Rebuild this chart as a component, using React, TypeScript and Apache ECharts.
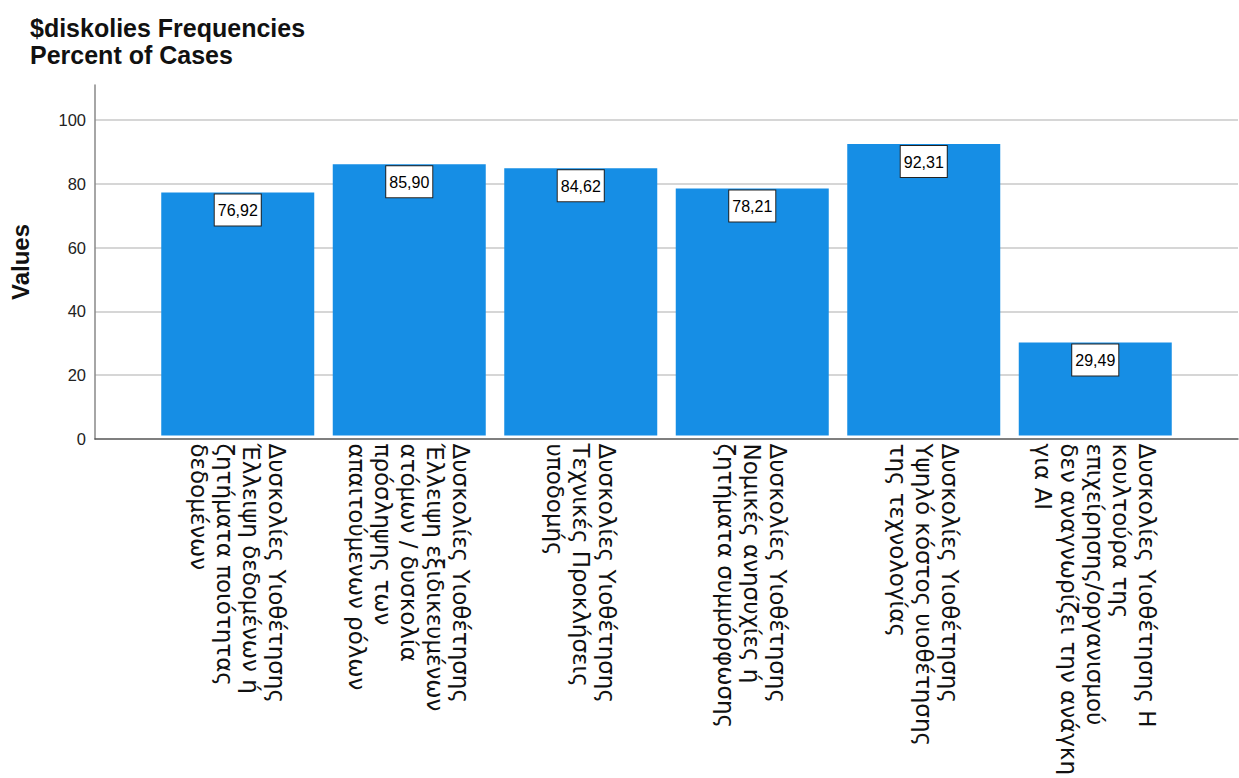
import React, { useEffect, useRef } from "react";
import * as echarts from "echarts";

const categories: string[] = [
  "Δυσκολίες Υιοθέτησης\nΈλλειψη δεδομένων ή\nζητήματα ποιότητας\nδεδομένων",
  "Δυσκολίες Υιοθέτησης\nΈλλειψη εξιδικευμένων\nατόμων / δυσκολία\nπρόσληψης των\nαπαιτούμενων ρόλων",
  "Δυσκολίες Υιοθέτησης\nΤεχνικές Προκλήσεις\nυποδομής",
  "Δυσκολίες Υιοθέτησης\nΝομικές ανησυχίες ή\nζητήματα συμμόρφωσης",
  "Δυσκολίες Υιοθέτησης\nΥψηλό κόστος υιοθέτησης\nτης τεχνολογίας",
  "Δυσκολίες Υιοθέτησης Η\nκουλτούρα της\nεπιχείρησης/οργανισμού\nδεν αναγνωρίζει την ανάγκη\nγια AI",
];

const percentOfCases: number[] = [76.92, 85.9, 84.62, 78.21, 92.31, 29.49];

const titleLines: string[] = ["$diskolies Frequencies", "Percent of Cases"];
const yAxisName = "Values";

export default function App() {
  const ref = useRef<HTMLDivElement>(null);

  useEffect(() => {
    if (!ref.current) return;
    const chart = echarts.init(ref.current, null, { renderer: "svg" });
    const sans = "'Liberation Sans', Arial, sans-serif";
    const gridTop = 85;
    const gridBottom = 339;
    chart.setOption({
      animation: false,
      backgroundColor: "#ffffff",
      title: {
        text: titleLines.join("\n"),
        left: 30,
        top: 14,
        padding: 0,
        textStyle: {
          fontFamily: sans,
          fontWeight: "bold",
          fontSize: 25,
          lineHeight: 27,
          color: "#111",
        },
      },
      grid: [
        { left: 95, right: 1, top: gridTop, bottom: gridBottom },
        { left: 152, right: 58, top: gridTop, bottom: gridBottom },
      ],
      xAxis: [
        {
          type: "category",
          gridIndex: 0,
          data: [""],
          axisLine: { show: true, lineStyle: { color: "#555", width: 1.5 } },
          axisTick: { show: false },
          axisLabel: { show: false },
          splitLine: { show: false },
        },
        {
          type: "category",
          gridIndex: 1,
          data: categories,
          axisLine: { show: false },
          axisTick: { show: false },
          axisLabel: {
            interval: 0,
            rotate: -90,
            margin: 8,
            fontFamily: "'DejaVu Sans', sans-serif",
            fontSize: 23,
            lineHeight: 26,
            color: "#111",
          },
        },
      ],
      yAxis: [
        {
          type: "value",
          gridIndex: 0,
          min: 0,
          max: 111,
          interval: 20,
          name: yAxisName,
          nameLocation: "middle",
          nameGap: 63,
          nameTextStyle: {
            fontFamily: sans,
            fontWeight: "bold",
            fontSize: 24,
            color: "#111",
          },
          axisLine: { show: true, lineStyle: { color: "#888", width: 1.5 } },
          axisTick: { show: false },
          axisLabel: {
            showMaxLabel: false,
            margin: 9,
            fontFamily: sans,
            fontSize: 16.5,
            color: "#222",
          },
          splitLine: {
            show: true,
            showMinLine: false,
            showMaxLine: false,
            lineStyle: { color: "#c8c8c8", width: 1.5 },
          },
        },
        {
          type: "value",
          gridIndex: 1,
          min: 0,
          max: 111,
          interval: 20,
          show: false,
          splitLine: { show: false },
        },
      ],
      series: [
        {
          type: "bar",
          xAxisIndex: 1,
          yAxisIndex: 1,
          data: percentOfCases,
          barWidth: 153,
          itemStyle: { color: "#168ee5" },
          label: {
            show: true,
            position: "insideTop",
            distance: 2,
            formatter: (p: any) => Number(p.value).toFixed(2).replace(".", ","),
            fontFamily: sans,
            fontSize: 16,
            color: "#000",
            backgroundColor: "#ffffff",
            borderColor: "#222",
            borderWidth: 1,
            padding: [8, 3, 7, 3],
          },
        },
      ],
    });
    return () => chart.dispose();
  }, []);

  return (
    <div
      ref={ref}
      style={{ position: "fixed", left: 0, top: 0, width: 1239, height: 778 }}
    />
  );
}
